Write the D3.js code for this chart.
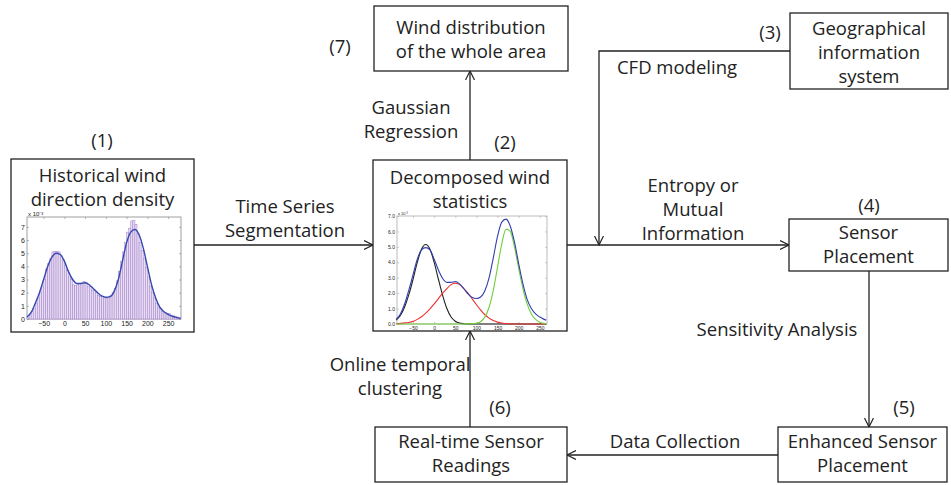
<!DOCTYPE html>
<html>
<head>
<meta charset="utf-8">
<script src="https://cdn.jsdelivr.net/npm/d3@7/dist/d3.min.js"></script>
<style>
  body { margin: 0; background: #fff; }
  svg text { font-family: "Open Sans", sans-serif; fill: #222; }
</style>
</head>
<body>
<svg id="chart" width="951" height="485"></svg>
<script>
// ---- flowchart text ----
const boxIds = ['hist', 'decomp', 'dist', 'gis', 'place', 'enh', 'real'];
const boxText = [
    ['Historical wind', 'direction density'],
    ['Decomposed wind', 'statistics'],
    ['Wind distribution', 'of the whole area'],
    ['Geographical', 'information', 'system'],
    ['Sensor', 'Placement'],
    ['Enhanced Sensor', 'Placement'],
    ['Real-time Sensor', 'Readings']
];
const stepNumbers = ['(1)', '(2)', '(7)', '(3)', '(4)', '(5)', '(6)'];
const edgeText = [
    ['Time Series', 'Segmentation'],
    ['Gaussian', 'Regression'],
    ['CFD modeling'],
    ['Entropy or', 'Mutual', 'Information'],
    ['Sensitivity Analysis'],
    ['Data Collection'],
    ['Online temporal', 'clustering']
];

// ---- historical wind direction histogram (x 10^-3) ----
const histBinStart = [
    -90, -85, -80, -75, -70, -65, -60, -55, -50, -45, -40, -35, -30, -25, -20, -15, -10, -5,
    0, 5, 10, 15, 20, 25, 30, 35, 40, 45, 50, 55, 60, 65, 70, 75, 80, 85, 90, 95,
    100, 105, 110, 115, 120, 125, 130, 135, 140, 145, 150, 155, 160, 165, 170, 175,
    180, 185, 190, 195, 200, 205, 210, 215, 220, 225, 230, 235, 240, 245, 250, 255,
    260, 265, 270, 275
];
const histValues = [
    0.15, 0.3, 0.55, 0.8, 1.2, 1.6, 2.0, 2.5, 3.0, 3.8, 4.2, 4.6, 5.1, 5.15, 5.15, 5.1, 4.8, 4.5,
    4.1, 3.7, 3.2, 3.0, 2.6, 2.55, 2.6, 2.7, 2.75, 2.85, 2.75, 2.5, 2.45, 2.2, 2.2, 2.0, 1.8, 1.7, 1.7, 1.6,
    1.6, 1.65, 1.8, 2.0, 2.3, 2.9, 3.6, 4.4, 5.1, 5.8, 6.6, 6.9, 7.45, 7.5, 7.2, 6.5,
    5.8, 5.2, 4.6, 3.9, 3.2, 2.5, 2.0, 1.6, 1.2, 0.9, 0.8, 0.6, 0.5, 0.45, 0.4, 0.3,
    0.25, 0.2, 0.15, 0.1
];
const densityX = [-90, -80, -70, -60, -50, -40, -30, -20, -10, 0, 10, 20, 30, 40, 50, 60, 70, 80, 90,
    100, 110, 120, 130, 140, 150, 160, 170, 180, 190, 200, 210, 220, 230, 240, 250, 260, 270, 280];
const densityY = [0.15, 0.5, 1.2, 2.0, 3.0, 4.0, 4.7, 5.0, 4.9, 4.4, 3.6, 3.0, 2.7, 2.7, 2.75, 2.6, 2.3, 2.0, 1.75,
    1.65, 1.7, 2.1, 3.0, 4.4, 5.8, 6.6, 6.8, 6.4, 5.4, 4.0, 2.6, 1.6, 0.9, 0.55, 0.35, 0.2, 0.12, 0.05];

// ---- decomposed mixture components (x 10^-3) ----
const mixX = [-90, -80, -70, -60, -50, -40, -30, -20, -10, 0, 10, 20, 30, 40, 50, 60, 70, 80, 90,
    100, 110, 120, 130, 140, 150, 160, 170, 180, 190, 200, 210, 220, 230, 240, 250, 260, 265];
const mixTotal = [0.3, 0.65, 1.3, 2.2, 3.2, 4.2, 4.8, 4.95, 4.8, 4.2, 3.5, 2.95, 2.7, 2.7, 2.75, 2.6, 2.3, 1.95, 1.72,
    1.65, 1.75, 2.15, 3.0, 4.3, 5.7, 6.6, 6.8, 6.35, 5.3, 3.9, 2.6, 1.6, 1.0, 0.65, 0.45, 0.3, 0.25];
const mixBlack = [0.25, 0.55, 1.1, 1.9, 2.9, 4.0, 4.85, 5.15, 4.85, 4.0, 2.9, 1.85, 1.0, 0.45, 0.18, 0.06, 0.02, 0, 0,
    0, 0, 0, 0, 0, 0, 0, 0, 0, 0, 0, 0, 0, 0, 0, 0, 0, 0];
const mixRed = [0.02, 0.04, 0.07, 0.1, 0.17, 0.3, 0.47, 0.7, 0.98, 1.3, 1.65, 2.0, 2.3, 2.55, 2.65, 2.55, 2.3, 2.0, 1.62,
    1.25, 0.9, 0.6, 0.38, 0.22, 0.12, 0.06, 0.03, 0.01, 0, 0, 0, 0, 0, 0, 0, 0, 0];
const mixGreen = [0, 0, 0, 0, 0, 0, 0, 0, 0, 0, 0, 0, 0, 0, 0, 0, 0, 0.01, 0.02,
    0.05, 0.15, 0.45, 1.1, 2.2, 3.7, 5.2, 6.15, 6.0, 5.0, 3.6, 2.3, 1.3, 0.65, 0.3, 0.12, 0.04, 0.02];

const xTicks = [-50, 0, 50, 100, 150, 200, 250];
const yTicks = [0, 1, 2, 3, 4, 5, 6, 7];

// ---- layout ----
const boxLayout = {
    hist:   { x: 11,  y: 159, w: 183, h: 173, ty: 176 },
    decomp: { x: 373, y: 160, w: 194, h: 171, ty: 178 },
    dist:   { x: 374, y: 6,   w: 194, h: 65,  ty: 28 },
    gis:    { x: 790, y: 13,  w: 158, h: 76,  ty: 29 },
    place:  { x: 789, y: 219, w: 159, h: 52,  ty: 233 },
    enh:    { x: 778, y: 427, w: 169, h: 55,  ty: 442 },
    real:   { x: 375, y: 427, w: 192, h: 55,  ty: 442 }
};
const numberPos = [[102, 141], [505, 143], [340, 47], [770, 33], [869, 206], [904, 408], [500, 408]];
const edgeTextPos = [[285, 207], [411, 108], [677, 68], [693, 186], [777, 330], [675, 442], [400, 365]];
const LINE_H = 24;

const svg = d3.select('#chart');

svg.append('defs').append('marker')
    .attr('id', 'arrow')
    .attr('markerUnits', 'userSpaceOnUse')
    .attr('markerWidth', 12).attr('markerHeight', 12)
    .attr('refX', 9).attr('refY', 5)
    .attr('orient', 'auto')
    .append('path')
    .attr('d', 'M0,0.5 L9,5 L0,9.5')
    .attr('fill', 'none')
    .attr('stroke', '#222')
    .attr('stroke-width', 1.2);

// connectors
const B = boxLayout;
const connectors = [
    [[B.hist.x + B.hist.w, 245], [B.decomp.x, 245]],
    [[470, B.decomp.y], [470, B.dist.y + B.dist.h]],
    [[B.gis.x, 51], [599, 51], [599, 245]],
    [[B.decomp.x + B.decomp.w, 245], [B.place.x, 245]],
    [[869, B.place.y + B.place.h], [869, B.enh.y]],
    [[B.enh.x, 455], [B.real.x + B.real.w, 455]],
    [[470, B.real.y], [470, B.decomp.y + B.decomp.h]]
];
svg.append('g').selectAll('path')
    .data(connectors)
    .join('path')
    .attr('d', d => d3.line()(d))
    .attr('fill', 'none')
    .attr('stroke', '#222')
    .attr('stroke-width', 1.3)
    .attr('marker-end', 'url(#arrow)');

// boxes
const boxes = svg.append('g').selectAll('g')
    .data(boxIds.map((id, i) => ({ id, lines: boxText[i], ...boxLayout[id] })))
    .join('g');
boxes.append('rect')
    .attr('x', d => d.x).attr('y', d => d.y)
    .attr('width', d => d.w).attr('height', d => d.h)
    .attr('fill', '#fff')
    .attr('stroke', '#222')
    .attr('stroke-width', 1.3);
boxes.each(function (d) {
    d3.select(this).selectAll('text')
        .data(d.lines)
        .join('text')
        .attr('x', d.x + d.w / 2)
        .attr('y', (t, i) => d.ty + i * LINE_H)
        .attr('dy', '0.35em')
        .attr('text-anchor', 'middle')
        .style('font-size', '18.5px')
        .text(t => t);
});

// step numbers
svg.append('g').selectAll('text')
    .data(stepNumbers)
    .join('text')
    .attr('x', (d, i) => numberPos[i][0])
    .attr('y', (d, i) => numberPos[i][1])
    .attr('dy', '0.35em')
    .attr('text-anchor', 'middle')
    .style('font-size', '18.5px')
    .text(d => d);

// edge labels
edgeText.forEach((lines, i) => {
    svg.append('g').selectAll('text')
        .data(lines)
        .join('text')
        .attr('x', edgeTextPos[i][0])
        .attr('y', (t, j) => edgeTextPos[i][1] + j * LINE_H)
        .attr('dy', '0.35em')
        .attr('text-anchor', 'middle')
        .style('font-size', '18.5px')
        .text(t => t);
});

// small MATLAB-style axes
function drawAxes(g, x, y, opts) {
    const [x0, x1] = x.range();
    const [y0, y1] = y.range();
    g.append('rect')
        .attr('x', x0).attr('y', y1)
        .attr('width', x1 - x0).attr('height', y0 - y1)
        .attr('fill', '#fff')
        .attr('stroke', opts.frame)
        .attr('stroke-width', 0.8);
    g.append('g')
        .attr('transform', `translate(0,${y0})`)
        .call(d3.axisBottom(x).tickValues(xTicks).tickSize(-2).tickPadding(opts.pad).tickFormat(d3.format('d')));
    g.append('g')
        .attr('transform', `translate(${x0},0)`)
        .call(d3.axisLeft(y).tickValues(yTicks).tickSize(-2).tickPadding(opts.pad));
    g.append('g')
        .attr('transform', `translate(${x1},0)`)
        .call(d3.axisRight(y).tickValues(yTicks).tickSize(-2).tickFormat(''));
    g.append('g')
        .attr('transform', `translate(0,${y1})`)
        .call(d3.axisTop(x).tickValues(xTicks).tickSize(-2).tickFormat(''));
    g.selectAll('.domain').remove();
    g.selectAll('.tick line').attr('stroke', opts.frame).attr('stroke-width', 0.6);
    g.selectAll('.tick text')
        .style('font-family', '"Liberation Sans", Arial, sans-serif')
        .style('font-size', opts.font + 'px')
        .attr('fill', opts.label);
    g.append('text')
        .attr('x', x0 + 1).attr('y', y1 - 1.5)
        .style('font-family', '"Liberation Sans", Arial, sans-serif')
        .style('font-size', (opts.font - 1) + 'px')
        .attr('fill', opts.label)
        .text('x 10\u207B\u00B3');
}

// chart (1): histogram + density
{
    const g = svg.append('g');
    const x = d3.scaleLinear().domain([-90, 281]).range([27, 181]);
    const y = d3.scaleLinear().domain([0, 7.75]).range([319, 217]);
    drawAxes(g, x, y, { frame: '#888', label: '#333', font: 7, pad: 2 });
    g.append('g').selectAll('rect')
        .data(histBinStart.map((s, i) => ({ s, v: histValues[i] })))
        .join('rect')
        .attr('x', d => x(d.s))
        .attr('y', d => y(d.v))
        .attr('width', d => x(d.s + 5) - x(d.s))
        .attr('height', d => y(0) - y(d.v))
        .attr('fill', '#e8def2')
        .attr('stroke', '#a47fcc')
        .attr('stroke-width', 0.5);
    g.append('path')
        .datum(densityX.map((v, i) => [v, densityY[i]]))
        .attr('d', d3.line().x(d => x(d[0])).y(d => y(d[1])).curve(d3.curveMonotoneX))
        .attr('fill', 'none')
        .attr('stroke', '#3549b0')
        .attr('stroke-width', 1.4);
}

// chart (2): decomposed components
{
    const g = svg.append('g');
    const x = d3.scaleLinear().domain([-88, 267]).range([397, 547]);
    const y = d3.scaleLinear().domain([0, 7]).range([324, 216]);
    drawAxes(g, x, y, { frame: '#aaa', label: '#777', font: 5, pad: 2 });
    const line = d3.line().x(d => x(d[0])).y(d => y(d[1])).curve(d3.curveMonotoneX);
    const series = [
        { vals: mixBlack, color: '#222' },
        { vals: mixRed, color: '#ee3030' },
        { vals: mixGreen, color: '#6fcf3a' },
        { vals: mixTotal, color: '#2f3fae' }
    ];
    g.append('g').selectAll('path')
        .data(series)
        .join('path')
        .attr('d', s => line(mixX.map((v, i) => [v, s.vals[i]])))
        .attr('fill', 'none')
        .attr('stroke', s => s.color)
        .attr('stroke-width', 1.1);
}
</script>
</body>
</html>
